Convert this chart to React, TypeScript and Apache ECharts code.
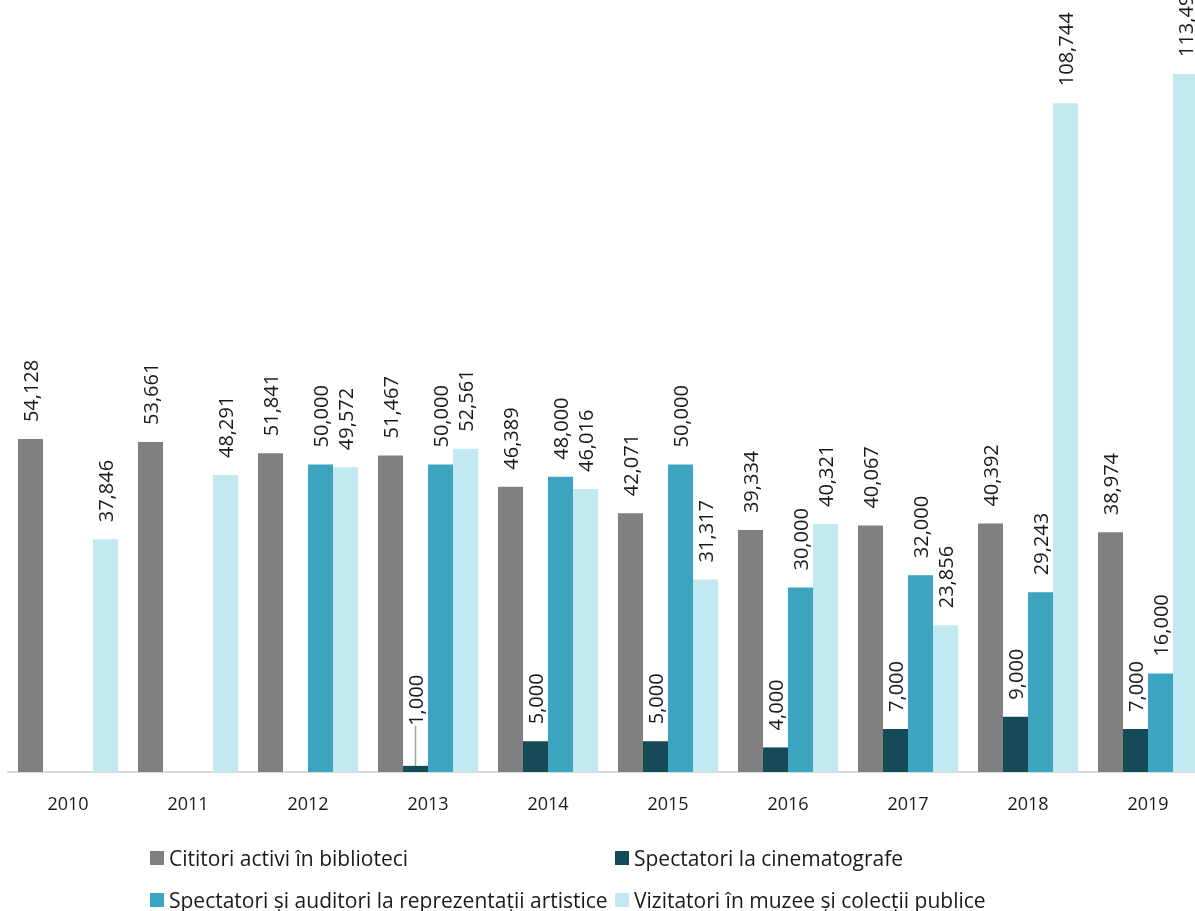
import React, { useEffect, useRef } from 'react';
import * as echarts from 'echarts';

const years = ['2010', '2011', '2012', '2013', '2014', '2015', '2016', '2017', '2018', '2019'];
const seriesNames = [
  'Cititori activi în biblioteci',
  'Spectatori la cinematografe',
  'Spectatori și auditori la reprezentații artistice',
  'Vizitatori în muzee și colecții publice',
];
const cititori = [54128, 53661, 51841, 51467, 46389, 42071, 39334, 40067, 40392, 38974];
const cinema: (number | string)[] = ['-', '-', '-', 1000, 5000, 5000, 4000, 7000, 9000, 7000];
const spectatori: (number | string)[] = ['-', '-', 50000, 50000, 48000, 50000, 30000, 32000, 29243, 16000];
const vizitatori = [37846, 48291, 49572, 52561, 46016, 31317, 40321, 23856, 108744, 113491];
const colors = ['#808080', '#154a57', '#3ca3c0', '#c2e8f0'];

const FONT = "'Open Sans', sans-serif";

export default function App() {
  const ref = useRef<HTMLDivElement>(null);
  useEffect(() => {
    if (!ref.current) return;
    const chart = echarts.init(ref.current, undefined, { renderer: 'svg' });
    const label = {
      show: true,
      position: 'top',
      rotate: 90,
      align: 'left',
      verticalAlign: 'middle',
      distance: 17,
      fontFamily: FONT,
      fontSize: 20,
      color: '#1a1a1a',
      formatter: (p: any) => Number(p.value).toLocaleString('en-US'),
    };
    const datasets = [cititori, cinema, spectatori, vizitatori];
    chart.setOption({
      animation: false,
      color: colors,
      grid: { left: 8, right: 0, top: 34, bottom: 139, containLabel: false },
      xAxis: {
        type: 'category',
        data: years,
        axisLine: { show: true, lineStyle: { color: '#d9d9d9', width: 2 } },
        axisTick: { show: false },
        axisLabel: { margin: 22, fontFamily: FONT, fontSize: 18, color: '#1a1a1a' },
      },
      yAxis: {
        type: 'value',
        min: 0,
        max: 120000,
        show: false,
        splitLine: { show: false },
      },
      legend: {
        left: 150,
        top: 840,
        width: 940,
        padding: 0,
        itemWidth: 14,
        itemHeight: 14,
        itemGap: 6,
        icon: 'rect',
        textStyle: { fontFamily: FONT, fontSize: 21, color: '#1a1a1a', width: 440, lineHeight: 36, overflow: 'none' },
        data: seriesNames,
      },
      series: datasets.map((d, i) => ({
        name: seriesNames[i],
        type: 'bar',
        data:
          i === 1
            ? d.map((v, j) =>
                j === 3
                  ? { value: v, labelLine: { show: true, lineStyle: { color: '#a6a6a6', width: 1.5 } } }
                  : v
              )
            : d,
        barGap: '0%',
        barCategoryGap: '16.67%',
        itemStyle: { color: colors[i] },
        label,
        ...(i === 1
          ? {
              labelLayout: (params: any) => (params.dataIndex === 3 ? { dx: 23 } : {}),
              labelLine: { show: false },
            }
          : {}),
      })),
    });
    return () => chart.dispose();
  }, []);
  return (
    <div style={{ position: 'fixed', left: 0, top: 0, width: 1195, height: 911, overflow: 'hidden' }}>
      <div ref={ref} style={{ width: 1208, height: 911 }} />
    </div>
  );
}
